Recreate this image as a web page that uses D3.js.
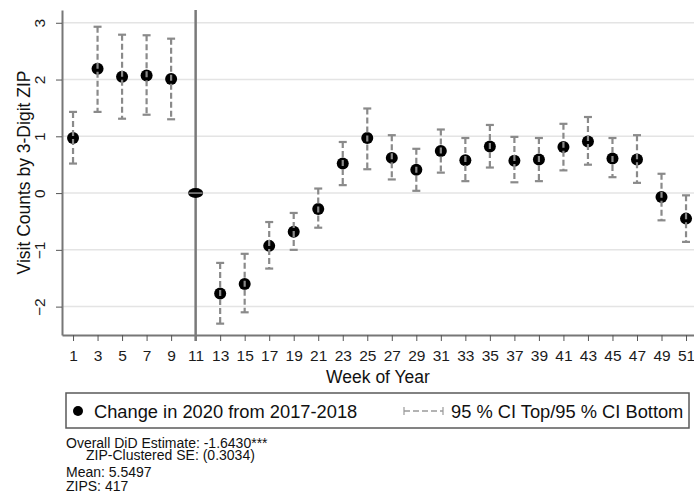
<!DOCTYPE html>
<html>
<head>
<meta charset="utf-8">
<script src="https://cdn.jsdelivr.net/npm/d3@7/dist/d3.min.js"></script>
<style>
  html, body { margin: 0; padding: 0; background: #fff; }
  svg { display: block; font-family: Arial, "Liberation Sans", sans-serif; }
</style>
</head>
<body>
<svg id="chart" width="694" height="495"></svg>
<script>
// Weekly difference-in-differences estimates with 95% confidence bounds
const weeks     = [1, 3, 5, 7, 9, 11, 13, 15, 17, 19, 21, 23, 25, 27, 29, 31, 33, 35, 37, 39, 41, 43, 45, 47, 49, 51];
const estimate  = [0.97, 2.19, 2.05, 2.07, 2.01, 0, -1.77, -1.60, -0.93, -0.68, -0.28, 0.52, 0.97, 0.62, 0.41, 0.74, 0.58, 0.82, 0.57, 0.59, 0.81, 0.91, 0.61, 0.59, -0.07, -0.45];
const ciTop     = [1.43, 2.93, 2.79, 2.78, 2.72, null, -1.23, -1.07, -0.51, -0.35, 0.08, 0.90, 1.49, 1.02, 0.78, 1.12, 0.97, 1.20, 0.99, 0.97, 1.22, 1.34, 0.97, 1.02, 0.34, -0.04];
const ciBottom  = [0.52, 1.43, 1.31, 1.38, 1.30, null, -2.30, -2.10, -1.33, -1.00, -0.61, 0.14, 0.42, 0.24, 0.04, 0.36, 0.21, 0.45, 0.19, 0.21, 0.40, 0.50, 0.28, 0.18, -0.48, -0.86];
const yTicks    = [-2, -1, 0, 1, 2, 3];
const eventWeek = 11;
const stats     = ["Overall DiD Estimate: -1.6430***", "ZIP-Clustered SE: (0.3034)", "Mean: 5.5497", "ZIPS: 417"];

const svg = d3.select("#chart");
const x = d3.scaleLinear().domain([0.1, 51.65]).range([62, 694]);
const y = d3.scaleLinear().domain([-2.5, 3.225]).range([335, 10]);

const rows = weeks.map((w, i) => ({ w, est: estimate[i], hi: ciTop[i], lo: ciBottom[i] }));

// horizontal grid
svg.append("g").selectAll("line").data(yTicks).join("line")
  .attr("x1", x.range()[0]).attr("x2", x.range()[1])
  .attr("y1", d => y(d)).attr("y2", d => y(d))
  .attr("stroke", "#e4e4e4").attr("stroke-width", 1.5);

// x axis
const gx = svg.append("g").attr("transform", `translate(0,${y.range()[0]})`)
  .call(d3.axisBottom(x).tickValues(weeks).tickSize(6).tickSizeOuter(0).tickPadding(9));
gx.select(".domain").attr("stroke", "#777").attr("stroke-width", 2);
gx.selectAll(".tick line").attr("stroke", "#555").attr("stroke-width", 1);
gx.selectAll(".tick text").attr("font-size", 15.5).attr("fill", "#1b1b1b")
  .attr("font-family", "Arial, 'Liberation Sans', sans-serif");

// y axis with rotated labels
const gy = svg.append("g").attr("transform", `translate(${x.range()[0]},0)`)
  .call(d3.axisLeft(y).tickValues(yTicks).tickSize(6).tickSizeOuter(0).tickFormat(d3.format("d")));
gy.select(".domain").attr("stroke", "#777").attr("stroke-width", 2);
gy.selectAll(".tick line").attr("stroke", "#555").attr("stroke-width", 1);
gy.selectAll(".tick text")
  .attr("font-size", 15.5).attr("fill", "#1b1b1b")
  .attr("font-family", "Arial, 'Liberation Sans', sans-serif")
  .attr("x", null)
  .attr("text-anchor", "middle")
  .attr("transform", "translate(-22,0) rotate(-90)")
  .attr("dy", "0.35em");

// axis titles
svg.append("text").attr("x", (x.range()[0] + x.range()[1]) / 2).attr("y", 383)
  .attr("text-anchor", "middle").attr("font-size", 17.5).attr("fill", "#111")
  .text("Week of Year");
svg.append("text")
  .attr("transform", `translate(30,${(y.range()[0] + y.range()[1]) / 2}) rotate(-90)`)
  .attr("text-anchor", "middle").attr("font-size", 17.5).attr("fill", "#111")
  .text("Visit Counts by 3-Digit ZIP");

// event line
svg.append("line")
  .attr("x1", x(eventWeek)).attr("x2", x(eventWeek))
  .attr("y1", y.range()[1]).attr("y2", y.range()[0] + 6)
  .attr("stroke", "#7a7a7a").attr("stroke-width", 2.5);

// point estimates
const pts = svg.append("g");
pts.selectAll("circle").data(rows.filter(d => d.hi !== null)).join("circle")
  .attr("cx", d => x(d.w)).attr("cy", d => y(d.est)).attr("r", 6)
  .attr("fill", "#000");
const base = rows.filter(d => d.hi === null);
pts.selectAll("ellipse").data(base).join("ellipse")
  .attr("cx", d => x(d.w)).attr("cy", d => y(d.est)).attr("rx", 7.5).attr("ry", 5)
  .attr("fill", "#000");
pts.selectAll("line.mid").data(base).join("line").attr("class", "mid")
  .attr("x1", d => x(d.w) - 7).attr("x2", d => x(d.w) + 7)
  .attr("y1", d => y(d.est)).attr("y2", d => y(d.est))
  .attr("stroke", "#8a8a8a").attr("stroke-width", 1.5);

// confidence intervals (dashed spikes with caps)
const ci = svg.append("g").attr("stroke", "#8a8a8a").attr("stroke-width", 2.2);
const ciRows = rows.filter(d => d.hi !== null);
ci.selectAll("line.spike").data(ciRows).join("line").attr("class", "spike")
  .attr("x1", d => x(d.w)).attr("x2", d => x(d.w))
  .attr("y1", d => y(d.hi)).attr("y2", d => y(d.lo))
  .attr("stroke-dasharray", "6 3");
ci.selectAll("line.capTop").data(ciRows).join("line").attr("class", "capTop")
  .attr("x1", d => x(d.w) - 4).attr("x2", d => x(d.w) + 4)
  .attr("y1", d => y(d.hi)).attr("y2", d => y(d.hi));
ci.selectAll("line.capBot").data(ciRows).join("line").attr("class", "capBot")
  .attr("x1", d => x(d.w) - 4).attr("x2", d => x(d.w) + 4)
  .attr("y1", d => y(d.lo)).attr("y2", d => y(d.lo));

// legend
const lg = svg.append("g");
lg.append("rect").attr("x", 66).attr("y", 393).attr("width", 623).attr("height", 35)
  .attr("fill", "#fff").attr("stroke", "#5a5a5a").attr("stroke-width", 1.5);
lg.append("circle").attr("cx", 78).attr("cy", 411).attr("r", 5).attr("fill", "#000");
lg.append("text").attr("x", 94).attr("y", 417.5).attr("font-size", 18.3).attr("fill", "#111")
  .text("Change in 2020 from 2017-2018");
lg.append("line").attr("x1", 404).attr("x2", 443).attr("y1", 411).attr("y2", 411)
  .attr("stroke", "#9a9a9a").attr("stroke-width", 1.5).attr("stroke-dasharray", "6 3");
lg.append("line").attr("x1", 404).attr("x2", 404).attr("y1", 407).attr("y2", 415)
  .attr("stroke", "#9a9a9a").attr("stroke-width", 1.2);
lg.append("line").attr("x1", 443).attr("x2", 443).attr("y1", 407).attr("y2", 415)
  .attr("stroke", "#9a9a9a").attr("stroke-width", 1.2);
lg.append("text").attr("x", 451).attr("y", 417.5).attr("font-size", 18.3).attr("fill", "#111")
  .text("95 % CI Top/95 % CI Bottom");

// summary notes
const noteX = [66, 86, 66, 66];
const noteY = [448, 460, 477, 491];
svg.append("g").selectAll("text").data(stats).join("text")
  .attr("x", (d, i) => noteX[i]).attr("y", (d, i) => noteY[i])
  .attr("font-size", 14).attr("fill", "#111")
  .text(d => d);
</script>
</body>
</html>
